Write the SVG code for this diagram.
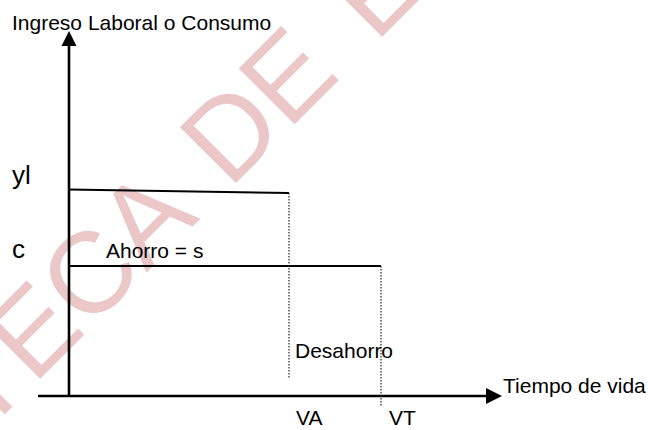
<svg xmlns="http://www.w3.org/2000/svg" width="648" height="430" viewBox="0 0 648 430">
<style>
  .t { font-family: "Liberation Sans", Arial, sans-serif; fill: #000; }
  .lbl { font-size: 21px; }
  .big { font-size: 26px; }
  .axis { stroke: #000; stroke-width: 2.6; fill: none; }
  .lvl { stroke: #000; stroke-width: 2; fill: none; }
  .dot { stroke: #222; stroke-width: 1.2; stroke-dasharray: 1.5 1.5; fill: none; }
  .wm { font-family: "Liberation Sans", Arial, sans-serif; font-size: 115px; fill: #ECC7C7; word-spacing: 15px; }
</style>
<rect width="648" height="430" fill="#fff"/>
<g id="watermark">
  <text class="wm" transform="translate(209.5,209.5) rotate(-45)" x="-690" y="0">BIBLIOTECA DE E</text>
</g>
<g id="connectors">
  <line class="axis" x1="69" y1="396" x2="69" y2="45"/>
  <polygon points="69,31 61.5,46 76.5,46" fill="#000"/>
  <line class="axis" x1="38" y1="396" x2="488" y2="396"/>
  <polygon points="502,396 486,388 486,404" fill="#000"/>
  <line class="lvl" x1="69" y1="189.5" x2="289" y2="193"/>
  <line class="lvl" x1="69" y1="266" x2="381" y2="266"/>
  <line class="dot" x1="289" y1="193" x2="289" y2="378"/>
  <line class="dot" x1="381" y1="266" x2="381" y2="407"/>
</g>
<g id="title"><text class="t lbl" x="12" y="30">Ingreso Laboral o Consumo</text></g>
<g id="label-yl"><text class="t big" x="12" y="184">yl</text></g>
<g id="label-c"><text class="t big" x="12" y="258">c</text></g>
<g id="label-ahorro"><text class="t lbl" x="106" y="258">Ahorro = s</text></g>
<g id="label-desahorro"><text class="t lbl" x="295" y="358">Desahorro</text></g>
<g id="label-tiempo"><text class="t lbl" x="503" y="393">Tiempo de vida</text></g>
<g id="label-va"><text class="t lbl" x="296" y="425">VA</text></g>
<g id="label-vt"><text class="t lbl" x="389" y="425">VT</text></g>
</svg>
